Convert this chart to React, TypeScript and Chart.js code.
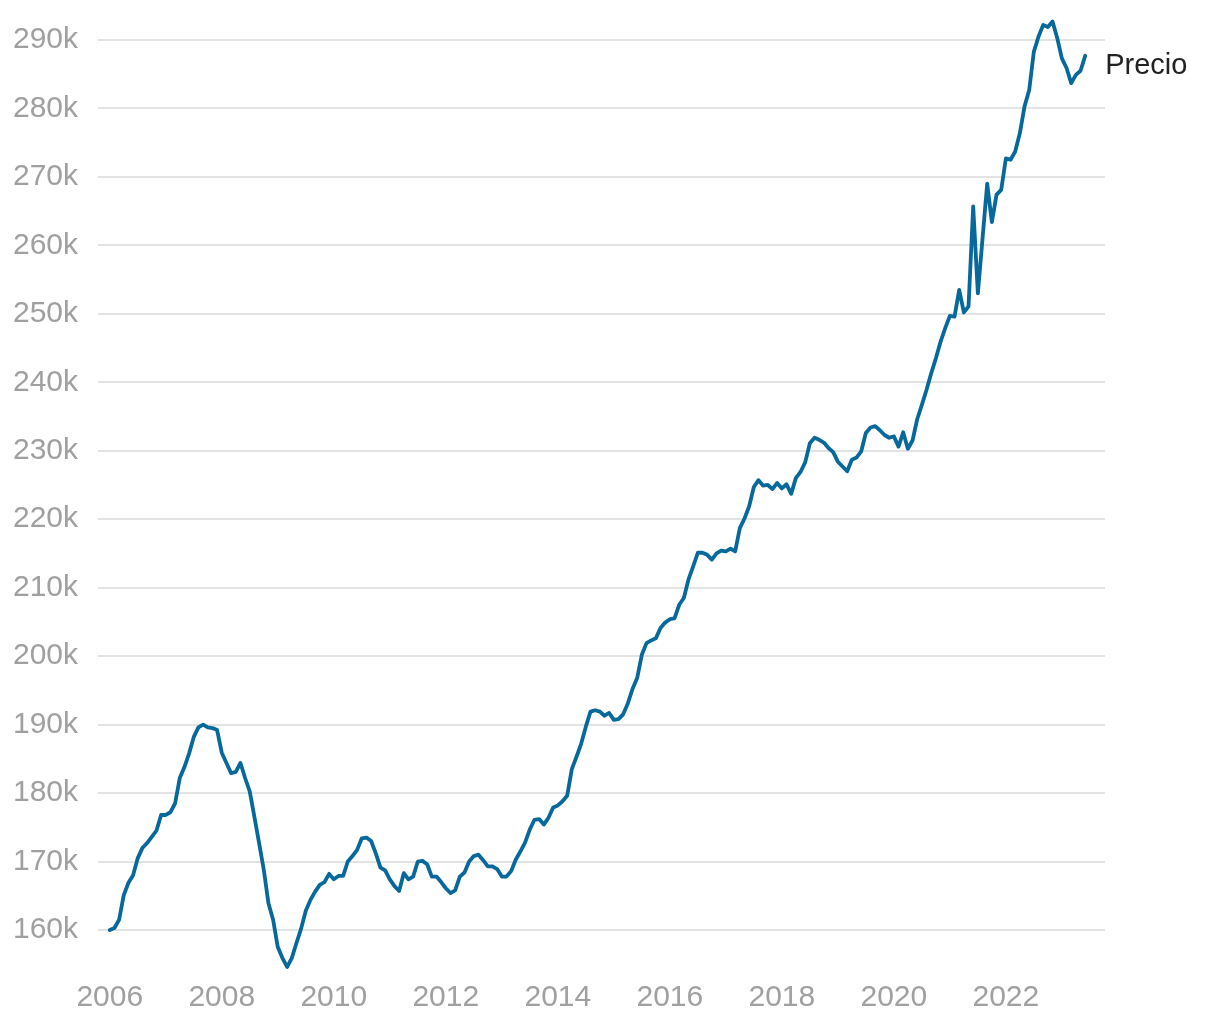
import React, { useEffect, useRef } from "react";
import { Chart, registerables } from "chart.js";

Chart.register(...registerables);

// Monthly house price (thousands), Jan 2006 – Jun 2023
const START_YEAR = 2006;
const SERIES_LABEL = "Precio";
const price2006 = [160.0, 160.3, 161.5, 165.1, 166.9, 168.0, 170.5, 172.0, 172.7, 173.6, 174.5, 176.8];
const price2007 = [176.8, 177.2, 178.5, 182.2, 183.8, 185.8, 188.2, 189.6, 190.0, 189.6, 189.5, 189.2];
const price2008 = [185.9, 184.4, 182.9, 183.1, 184.4, 182.2, 180.2, 176.5, 172.7, 168.8, 163.9, 161.5];
const price2009 = [157.5, 155.9, 154.6, 155.9, 158.1, 160.2, 162.8, 164.4, 165.6, 166.6, 167.0, 168.2];
const price2010 = [167.4, 167.9, 167.9, 170.0, 170.8, 171.7, 173.4, 173.5, 173.0, 171.2, 169.1, 168.7];
const price2011 = [167.4, 166.4, 165.7, 168.3, 167.4, 167.8, 170.0, 170.1, 169.6, 167.8, 167.8, 167.0];
const price2012 = [166.1, 165.4, 165.8, 167.8, 168.4, 170.0, 170.8, 171.0, 170.2, 169.3, 169.3, 168.9];
const price2013 = [167.8, 167.8, 168.6, 170.3, 171.5, 172.8, 174.7, 176.1, 176.2, 175.4, 176.4, 177.9];
const price2014 = [178.2, 178.8, 179.6, 183.5, 185.3, 187.2, 189.7, 191.9, 192.1, 191.9, 191.3, 191.7];
const price2015 = [190.7, 190.8, 191.5, 193.1, 195.2, 196.8, 200.2, 201.9, 202.3, 202.6, 204.1, 204.9];
const price2016 = [205.4, 205.5, 207.5, 208.5, 211.2, 213.1, 215.1, 215.1, 214.8, 214.1, 215.0, 215.4];
const price2017 = [215.3, 215.7, 215.3, 218.7, 220.1, 221.9, 224.7, 225.7, 224.9, 225.0, 224.4, 225.3];
const price2018 = [224.5, 225.1, 223.7, 226.0, 226.9, 228.3, 231.1, 231.9, 231.6, 231.2, 230.4, 229.8];
const price2019 = [228.4, 227.7, 227.0, 228.7, 229.0, 229.9, 232.6, 233.4, 233.6, 233.0, 232.3, 231.9];
const price2020 = [232.1, 230.6, 232.7, 230.3, 231.5, 234.6, 236.7, 238.9, 241.3, 243.5, 245.9, 247.9];
const price2021 = [249.7, 249.6, 253.5, 250.2, 251.1, 265.7, 253.0, 261.0, 269.0, 263.4, 267.4, 268.1];
const price2022 = [272.7, 272.5, 273.7, 276.4, 280.3, 282.7, 288.3, 290.5, 292.2, 291.9, 292.7, 290.3];
const price2023 = [287.3, 285.9, 283.7, 284.9, 285.5, 287.7];

const yTicks = [160, 170, 180, 190, 200, 210, 220, 230, 240, 250, 260, 270, 280, 290];
const xTicks = [2006, 2008, 2010, 2012, 2014, 2016, 2018, 2020, 2022];

const allPrices = [
  ...price2006, ...price2007, ...price2008, ...price2009, ...price2010, ...price2011,
  ...price2012, ...price2013, ...price2014, ...price2015, ...price2016, ...price2017,
  ...price2018, ...price2019, ...price2020, ...price2021, ...price2022, ...price2023,
];

const LINE_COLOR = "#07699b";
const FONT = "'Liberation Sans', Arial, sans-serif";

const endLabelPlugin = {
  id: "endLabel",
  afterDatasetsDraw(chart: any) {
    const meta = chart.getDatasetMeta(0);
    const pts = meta.data;
    if (!pts || !pts.length) return;
    const last = pts[pts.length - 1];
    const ctx = chart.ctx;
    ctx.save();
    ctx.font = `29px ${FONT}`;
    ctx.fillStyle = "#222222";
    ctx.textAlign = "left";
    ctx.textBaseline = "alphabetic";
    ctx.fillText(SERIES_LABEL, last.x + 20, last.y + 18);
    ctx.restore();
  },
};

export default function App() {
  const ref = useRef<HTMLCanvasElement | null>(null);

  useEffect(() => {
    if (!ref.current) return;
    const data = allPrices.map((v, i) => ({ x: START_YEAR + i / 12, y: v }));
    const chart = new Chart(ref.current, {
      type: "line",
      data: {
        datasets: [
          {
            label: SERIES_LABEL,
            data,
            borderColor: LINE_COLOR,
            borderWidth: 3.8,
            borderJoinStyle: "round",
            borderCapStyle: "round",
            pointRadius: 0,
            tension: 0,
            fill: false,
          },
        ],
      },
      options: {
        animation: false,
        responsive: false,
        maintainAspectRatio: false,
        layout: { padding: { top: 16, right: 115, left: 0, bottom: 0 } },
        plugins: { legend: { display: false }, tooltip: { enabled: false } },
        scales: {
          x: {
            type: "linear",
            min: 2005.79,
            max: 2023.77,
            grid: { display: false, drawTicks: false },
            border: { display: false },
            afterBuildTicks: (scale: any) => {
              scale.ticks = xTicks.map((v) => ({ value: v }));
            },
            afterFit: (scale: any) => {
              scale.height = 45.5;
              scale.paddingLeft = 0;
              scale.paddingRight = 0;
            },
            ticks: {
              color: "#a0a0a0",
              font: { family: FONT, size: 30 },
              padding: 5,
              maxRotation: 0,
              autoSkip: false,
              callback: (v: any) => String(v),
            },
          },
          y: {
            type: "linear",
            min: 153.5,
            max: 293.5,
            grid: { color: "#e3e3e3", lineWidth: 2, drawTicks: false },
            border: { display: false },
            afterBuildTicks: (scale: any) => {
              scale.ticks = yTicks.map((v) => ({ value: v }));
            },
            afterFit: (scale: any) => {
              scale.width = 98;
              scale.paddingTop = 0;
              scale.paddingBottom = 0;
            },
            ticks: {
              color: "#a0a0a0",
              font: { family: FONT, size: 30 },
              padding: 20,
              autoSkip: false,
              callback: (v: any) => `${v}k`,
            },
          },
        },
      },
      plugins: [endLabelPlugin],
    });
    return () => chart.destroy();
  }, []);

  return (
    <div style={{ position: "absolute", left: 0, top: 0, width: 1220, height: 1020, background: "#fff" }}>
      <canvas ref={ref} width={1220} height={1020} style={{ width: 1220, height: 1020, display: "block" }} />
    </div>
  );
}
